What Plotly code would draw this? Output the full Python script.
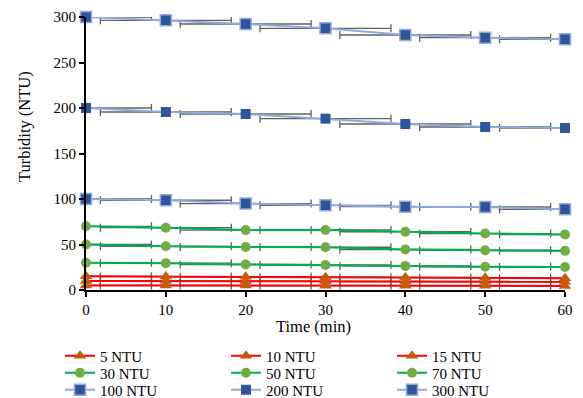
import plotly.graph_objects as go

time_min = [0, 10, 20, 30, 40, 50, 60]

ntu_5 = [5, 5, 4.9, 4.8, 4.7, 4.6, 4.5]
ntu_10 = [10, 9.8, 9.6, 9.5, 9.3, 9.2, 9]
ntu_15 = [15, 14.8, 14.5, 14, 13.8, 13.5, 13]
ntu_30 = [30, 29.5, 28, 27.5, 26.5, 25.5, 25.3]
ntu_50 = [50, 48, 47.3, 47, 44.5, 43.7, 43]
ntu_70 = [70, 68.5, 65.8, 66, 64, 62, 61]
ntu_100 = [100, 98.6, 95, 93, 91.6, 91.2, 88.7]
ntu_200 = [200, 195.6, 193.4, 188.3, 182.4, 179.1, 178]
ntu_300 = [300, 296.4, 292.3, 287.6, 280.2, 277.3, 275.5]

time_error = 8.2  # horizontal error (min)

series_names = ["5 NTU", "10 NTU", "15 NTU", "30 NTU", "50 NTU", "70 NTU",
                "100 NTU", "200 NTU", "300 NTU"]
series_values = [ntu_5, ntu_10, ntu_15, ntu_30, ntu_50, ntu_70,
                 ntu_100, ntu_200, ntu_300]

RED, ORANGE = "#FF0000", "#C55A11"
GREEN, LGREEN = "#00B050", "#70AD47"
LBLUE, DBLUE = "#8FAADC", "#2F5597"

styles = [
    dict(lc=RED, mc=ORANGE, sym="triangle-up", border=None),
    dict(lc=RED, mc=ORANGE, sym="triangle-up", border=None),
    dict(lc=RED, mc=ORANGE, sym="triangle-up", border=None),
    dict(lc=GREEN, mc=LGREEN, sym="circle", border=None),
    dict(lc=GREEN, mc=LGREEN, sym="circle", border=None),
    dict(lc=GREEN, mc=LGREEN, sym="circle", border=None),
    dict(lc=LBLUE, mc=DBLUE, sym="square", border=LBLUE),
    dict(lc=LBLUE, mc=DBLUE, sym="square", border=None),
    dict(lc=LBLUE, mc=DBLUE, sym="square", border=LBLUE),
]

W, H = 583, 398
font = "Liberation Serif, Times New Roman, serif"

fig = go.Figure()

# error bars underneath everything
for name, vals in zip(series_names, series_values):
    fig.add_trace(go.Scatter(
        x=time_min, y=vals, mode="markers", showlegend=False, hoverinfo="skip",
        marker=dict(size=1, color="rgba(0,0,0,0)"),
        error_x=dict(type="constant", value=time_error, color="#606060",
                     thickness=1.3, width=4),
    ))

# legend grid: 3 columns x 3 rows, one legend per entry
col_line_start = [65, 231, 397]
row_center = [356, 373, 390]
legend_layouts = {}
for i, (name, vals, st) in enumerate(zip(series_names, series_values, styles)):
    mk = dict(symbol=st["sym"], size=10 if st["sym"] != "triangle-up" else 11,
              color=st["mc"])
    if st["border"]:
        mk["line"] = dict(color=st["border"], width=1.5)
        mk["size"] = 11
    else:
        mk["line"] = dict(width=0)
    lg = "legend" if i == 0 else f"legend{i + 1}"
    fig.add_trace(go.Scatter(
        x=time_min, y=vals, name=name, mode="lines+markers",
        line=dict(color=st["lc"], width=2), marker=mk, cliponaxis=False,
        legend=lg, showlegend=True,
    ))
    r, c = divmod(i, 3)
    legend_layouts[lg] = dict(
        xref="container", yref="container",
        x=(col_line_start[c] - 5) / W, y=1 - row_center[r] / H,
        xanchor="left", yanchor="middle", bgcolor="rgba(0,0,0,0)",
        font=dict(family=font, size=15, color="black"),
        itemwidth=30, tracegroupgap=0,
    )

fig.update_layout(
    width=W, height=H,
    margin=dict(l=86, r=18, t=17, b=108, autoexpand=False),
    paper_bgcolor="white", plot_bgcolor="white",
    font=dict(family=font, size=15, color="black"),
    showlegend=True,
    xaxis=dict(range=[0, 60], tickvals=[0, 10, 20, 30, 40, 50, 60],
               showgrid=False, zeroline=False, showline=True,
               linecolor="black", linewidth=2, ticks="outside",
               ticklen=5, tickcolor="black", tickwidth=1.5,
               automargin=False, tickfont=dict(size=15)),
    yaxis=dict(range=[0, 300], tickvals=[0, 50, 100, 150, 200, 250, 300],
               showgrid=False, zeroline=False, showline=True,
               linecolor="black", linewidth=2, ticks="outside",
               ticklen=5, tickcolor="black", tickwidth=1.5,
               automargin=False, tickfont=dict(size=15)),
    annotations=[
        dict(text="Time (min)", xref="paper", yref="paper",
             x=(313 - 86) / (565 - 86), y=(290 - 326) / (290 - 17),
             xanchor="center", yanchor="middle", showarrow=False,
             font=dict(family=font, size=16.5, color="black")),
        dict(text="Turbidity (NTU)", xref="paper", yref="paper",
             x=(24 - 86) / (565 - 86), y=(290 - 127) / (290 - 17),
             xanchor="center", yanchor="middle", showarrow=False,
             textangle=-90,
             font=dict(family=font, size=16.5, color="black")),
    ],
    **legend_layouts,
)

fig.write_html("out.html",
               config={"displayModeBar": False},
               post_script="document.body.style.margin='0';"
                           "document.body.style.padding='0';")
